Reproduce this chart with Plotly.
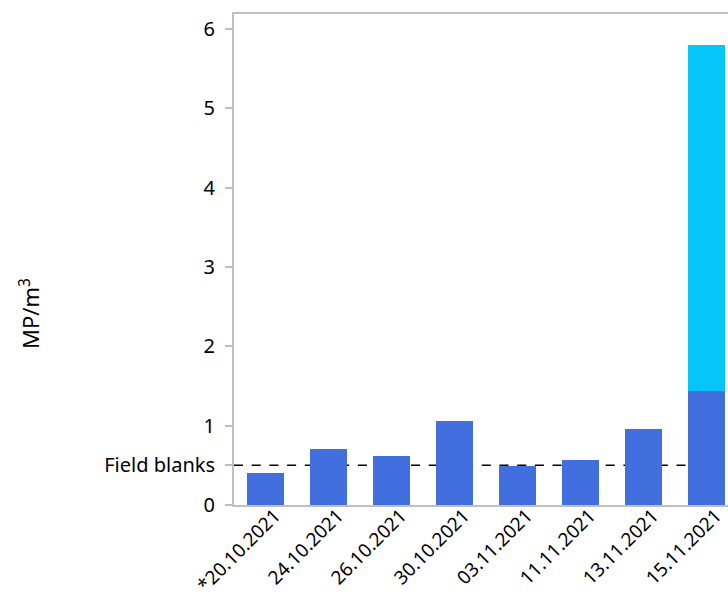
import plotly.graph_objects as go

# Sampling dates and microplastic concentrations (MP per cubic metre)
dates = ["*20.10.2021", "24.10.2021", "26.10.2021", "30.10.2021",
         "03.11.2021", "11.11.2021", "13.11.2021", "15.11.2021"]
base_values = [0.40, 0.71, 0.62, 1.06, 0.49, 0.57, 0.96, 1.44]
extra_values = [0, 0, 0, 0, 0, 0, 0, 4.36]
field_blank_level = 0.5

y_tick_vals = [0, 0.5, 1, 2, 3, 4, 5, 6]
y_tick_text = ["0", "Field blanks", "1", "2", "3", "4", "5", "6"]

FONT = "Noto Sans, Open Sans, sans-serif"
AXIS_GREY = "#bfbfbf"

positions = list(range(len(dates)))
# slanted labels hang slightly right of each bar centre
label_positions = [p + 0.15 for p in positions]

fig = go.Figure()
fig.add_trace(go.Bar(x=positions, y=base_values, marker_color="#4170DE",
                     marker_line_width=0, width=0.575))
fig.add_trace(go.Bar(x=positions, y=extra_values, marker_color="#06C6F9",
                     marker_line_width=0, width=0.575))

# Field-blank reference line, drawn behind the bars
fig.add_shape(type="line", xref="paper", yref="y", x0=0, x1=1,
              y0=field_blank_level, y1=field_blank_level,
              line=dict(color="black", width=1.5, dash="9px,8.7px"),
              layer="below")

fig.add_annotation(text="MP/m<sup>3</sup>", xref="paper", yref="paper",
                   x=0, y=(505 - 314) / 491, xanchor="center",
                   yanchor="middle", showarrow=False, textangle=-90,
                   font=dict(size=22, color="black", family=FONT),
                   xshift=30 - 234)

fig.update_layout(
    width=728, height=599,
    margin=dict(l=234, r=0, t=14, b=94),
    barmode="stack",
    showlegend=False,
    plot_bgcolor="white", paper_bgcolor="white",
    font=dict(family=FONT, size=20, color="black"),
    xaxis=dict(range=[-0.5, 7.34], showline=True, mirror=True,
               linecolor=AXIS_GREY, linewidth=2, ticks="",
               tickvals=label_positions, ticktext=dates,
               tickangle=-45, tickfont=dict(size=19), showgrid=False,
               zeroline=False, automargin=False, ticklabelstandoff=-10),
    yaxis=dict(range=[0, 6.19], tickvals=y_tick_vals, ticktext=y_tick_text,
               showline=True, linecolor=AXIS_GREY, linewidth=2,
               ticks="outside", ticklen=7, tickcolor=AXIS_GREY, tickwidth=2,
               tickfont=dict(size=20), showgrid=False, zeroline=False,
               ticklabelstandoff=6, automargin=False),
)

fig.write_html("out.html")
